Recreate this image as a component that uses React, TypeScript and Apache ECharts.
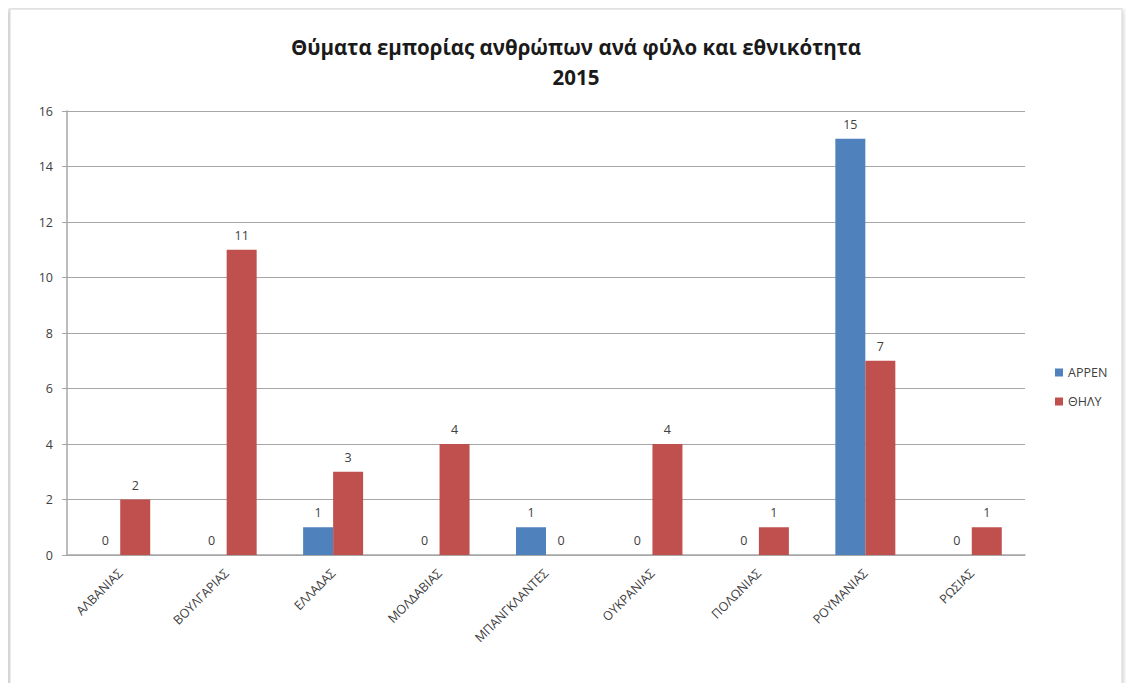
import React, { useEffect, useRef } from "react";
import * as echarts from "echarts";

const categories = ["ΑΛΒΑΝΙΑΣ", "ΒΟΥΛΓΑΡΙΑΣ", "ΕΛΛΑΔΑΣ", "ΜΟΛΔΑΒΙΑΣ", "ΜΠΑΝΓΚΛΑΝΤΕΣ", "ΟΥΚΡΑΝΙΑΣ", "ΠΟΛΩΝΙΑΣ", "ΡΟΥΜΑΝΙΑΣ", "ΡΩΣΙΑΣ"];
const maleValues = [0, 0, 1, 0, 1, 0, 0, 15, 0];
const femaleValues = [2, 11, 3, 4, 0, 4, 1, 7, 1];
const seriesNames = ["ΑΡΡΕΝ", "ΘΗΛΥ"];
const titleText = "Θύματα εμπορίας ανθρώπων ανά φύλο και εθνικότητα\n2015";

const FONT = "'Open Sans', 'Noto Sans', sans-serif";

export default function App() {
  const ref = useRef<HTMLDivElement>(null);
  useEffect(() => {
    if (!ref.current) return;
    const chart = echarts.init(ref.current, undefined, { renderer: "svg" });
    const labelStyle = { show: true, position: "top", color: "#404040", fontSize: 12.5, fontFamily: FONT, distance: 8 };
    chart.setOption({
      animation: false,
      backgroundColor: "#ffffff",
      graphic: [
        {
          type: "rect",
          z: -10,
          silent: true,
          shape: { x: 10, y: 9, width: 1112, height: 684 },
          style: { fill: "#ffffff", stroke: "#d4d4d4", lineWidth: 1, shadowBlur: 6, shadowColor: "rgba(0,0,0,0.35)", shadowOffsetX: -1, shadowOffsetY: 1 },
        },
      ],
      title: {
        text: titleText,
        left: 571,
        textAlign: "center",
        top: 27,
        textStyle: { fontFamily: FONT, fontSize: 20.5, fontWeight: "bold", color: "#1a1a1a", lineHeight: 30 },
      },
      legend: {
        orient: "vertical",
        left: 1050,
        top: 361,
        itemWidth: 8,
        itemHeight: 8,
        itemGap: 16,
        icon: "rect",
        textStyle: { fontFamily: FONT, fontSize: 12.5, color: "#404040" },
        data: seriesNames,
      },
      grid: { left: 67, right: 109, top: 111, bottom: 136, containLabel: false },
      xAxis: {
        type: "category",
        data: categories,
        axisLine: { lineStyle: { color: "#a6a6a6", width: 1.5 } },
        axisTick: { show: false },
        axisLabel: { rotate: 45, margin: 16, fontFamily: FONT, fontSize: 12.5, color: "#404040", interval: 0 },
      },
      yAxis: {
        type: "value",
        min: 0,
        max: 16,
        interval: 2,
        axisLine: { show: true, lineStyle: { color: "#a6a6a6", width: 1.5 } },
        axisTick: { show: true, length: 5, lineStyle: { color: "#a6a6a6" } },
        axisLabel: { fontFamily: FONT, fontSize: 12.5, color: "#404040", margin: 14 },
        splitLine: { lineStyle: { color: "#a6a6a6", width: 1 } },
      },
      series: [
        {
          name: seriesNames[0],
          type: "bar",
          data: maleValues,
          barWidth: 30,
          barGap: "0%",
          itemStyle: { color: "#4F81BD" },
          label: labelStyle,
        },
        {
          name: seriesNames[1],
          type: "bar",
          data: femaleValues,
          barWidth: 30,
          barGap: "0%",
          itemStyle: { color: "#C0504D" },
          label: labelStyle,
        },
      ],
    });
    return () => chart.dispose();
  }, []);
  return (
    <div style={{ margin: -8 }}>
      <div ref={ref} style={{ width: 1134, height: 691 }} />
    </div>
  );
}
